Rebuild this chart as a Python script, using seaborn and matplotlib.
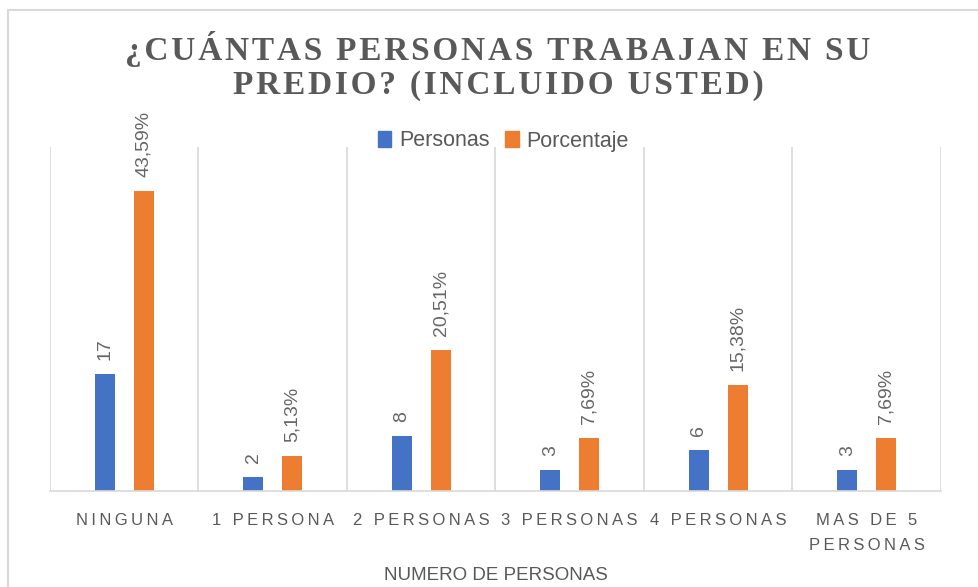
import matplotlib
matplotlib.use("Agg")
import matplotlib.pyplot as plt
import numpy as np
import pandas as pd
import seaborn as sns
from matplotlib.patches import Rectangle

categorias = ["NINGUNA", "1 PERSONA", "2 PERSONAS", "3 PERSONAS", "4 PERSONAS", "MAS DE 5\nPERSONAS"]
personas = [17, 2, 8, 3, 6, 3]
porcentaje = [43.59, 5.13, 20.51, 7.69, 15.38, 7.69]
series = ["Personas", "Porcentaje"]
titulo = "¿CUÁNTAS PERSONAS TRABAJAN EN SU\nPREDIO? (INCLUIDO USTED)"
eje_x = "NUMERO DE PERSONAS"

colors = ["#4472C4", "#ED7D31"]
gris = "#595959"
linea = "#D9D9D9"


def spaced(s, sep="\u2009"):
    # letter spacing like the original office chart
    return "\n".join(sep.join(line) for line in s.split("\n"))


df = pd.DataFrame({
    "categoria": categorias * 2,
    "serie": [series[0]] * len(categorias) + [series[1]] * len(categorias),
    "valor": personas + porcentaje,
})

sns.set_theme(style="white")
plt.rcParams["font.family"] = ["Liberation Sans", "DejaVu Sans"]

fig = plt.figure(figsize=(9.79, 5.87), dpi=100)
ax = fig.add_axes([50 / 979, 96 / 587, 891 / 979, 344 / 587])

sns.barplot(data=df, x="categoria", y="valor", hue="serie", palette=colors,
            saturation=1, width=0.52, gap=0.48, linewidth=0, ax=ax)

labels_p = [str(v) for v in personas]
labels_q = [f"{v:.2f}%".replace(".", ",") for v in porcentaje]
for cont, labs in zip(ax.containers, [labels_p, labels_q]):
    ax.bar_label(cont, labels=labs, rotation=90, padding=10, fontsize=14, color="#666666")

ax.set_ylim(0, 50)
ax.set_xlim(-0.5, len(categorias) - 0.5)
ax.set_yticks([])
ax.set_ylabel("")
ax.set_xticks(range(len(categorias)))
ax.set_xticklabels([spaced(c) for c in categorias], fontsize=12, color=gris, linespacing=1.85)
ax.tick_params(axis="x", length=0, pad=16)
ax.set_xticks(np.arange(-0.5, len(categorias)), minor=True)
ax.tick_params(axis="x", which="minor", length=0)
ax.grid(which="minor", axis="x", color=linea, linewidth=1.2)
ax.grid(which="major", visible=False)
for s in ["top", "left", "right"]:
    ax.spines[s].set_visible(False)
ax.spines["bottom"].set_color(linea)
ax.spines["bottom"].set_linewidth(1.2)
ax.set_xlabel(eje_x, fontsize=13.5, color=gris, va="center")
ax.xaxis.set_label_coords(0.5, -84 / 344)

ax.legend_.remove()
handles = [Rectangle((0, 0), 1, 1, color=c) for c in colors]
fig.legend(handles, series, loc="center", bbox_to_anchor=(503 / 979, 1 - 141 / 587),
           ncol=2, frameon=False, fontsize=15.5, handlelength=0.65, handleheight=0.8,
           handletextpad=0.35, columnspacing=0.7, labelcolor=gris)

fig.text(498 / 979, 1 - 66 / 587, spaced(titulo, "\u200a"), ha="center", va="center",
         fontsize=24, fontweight="bold", color=gris,
         family=["Liberation Serif", "DejaVu Serif"], linespacing=1.08)

fig.patches.append(Rectangle((8 / 979, -0.1), 1.2, 1 - 10 / 587 + 0.1,
                             transform=fig.transFigure, fill=False,
                             edgecolor=linea, linewidth=1.5))

fig.savefig("out.png", dpi=100)
